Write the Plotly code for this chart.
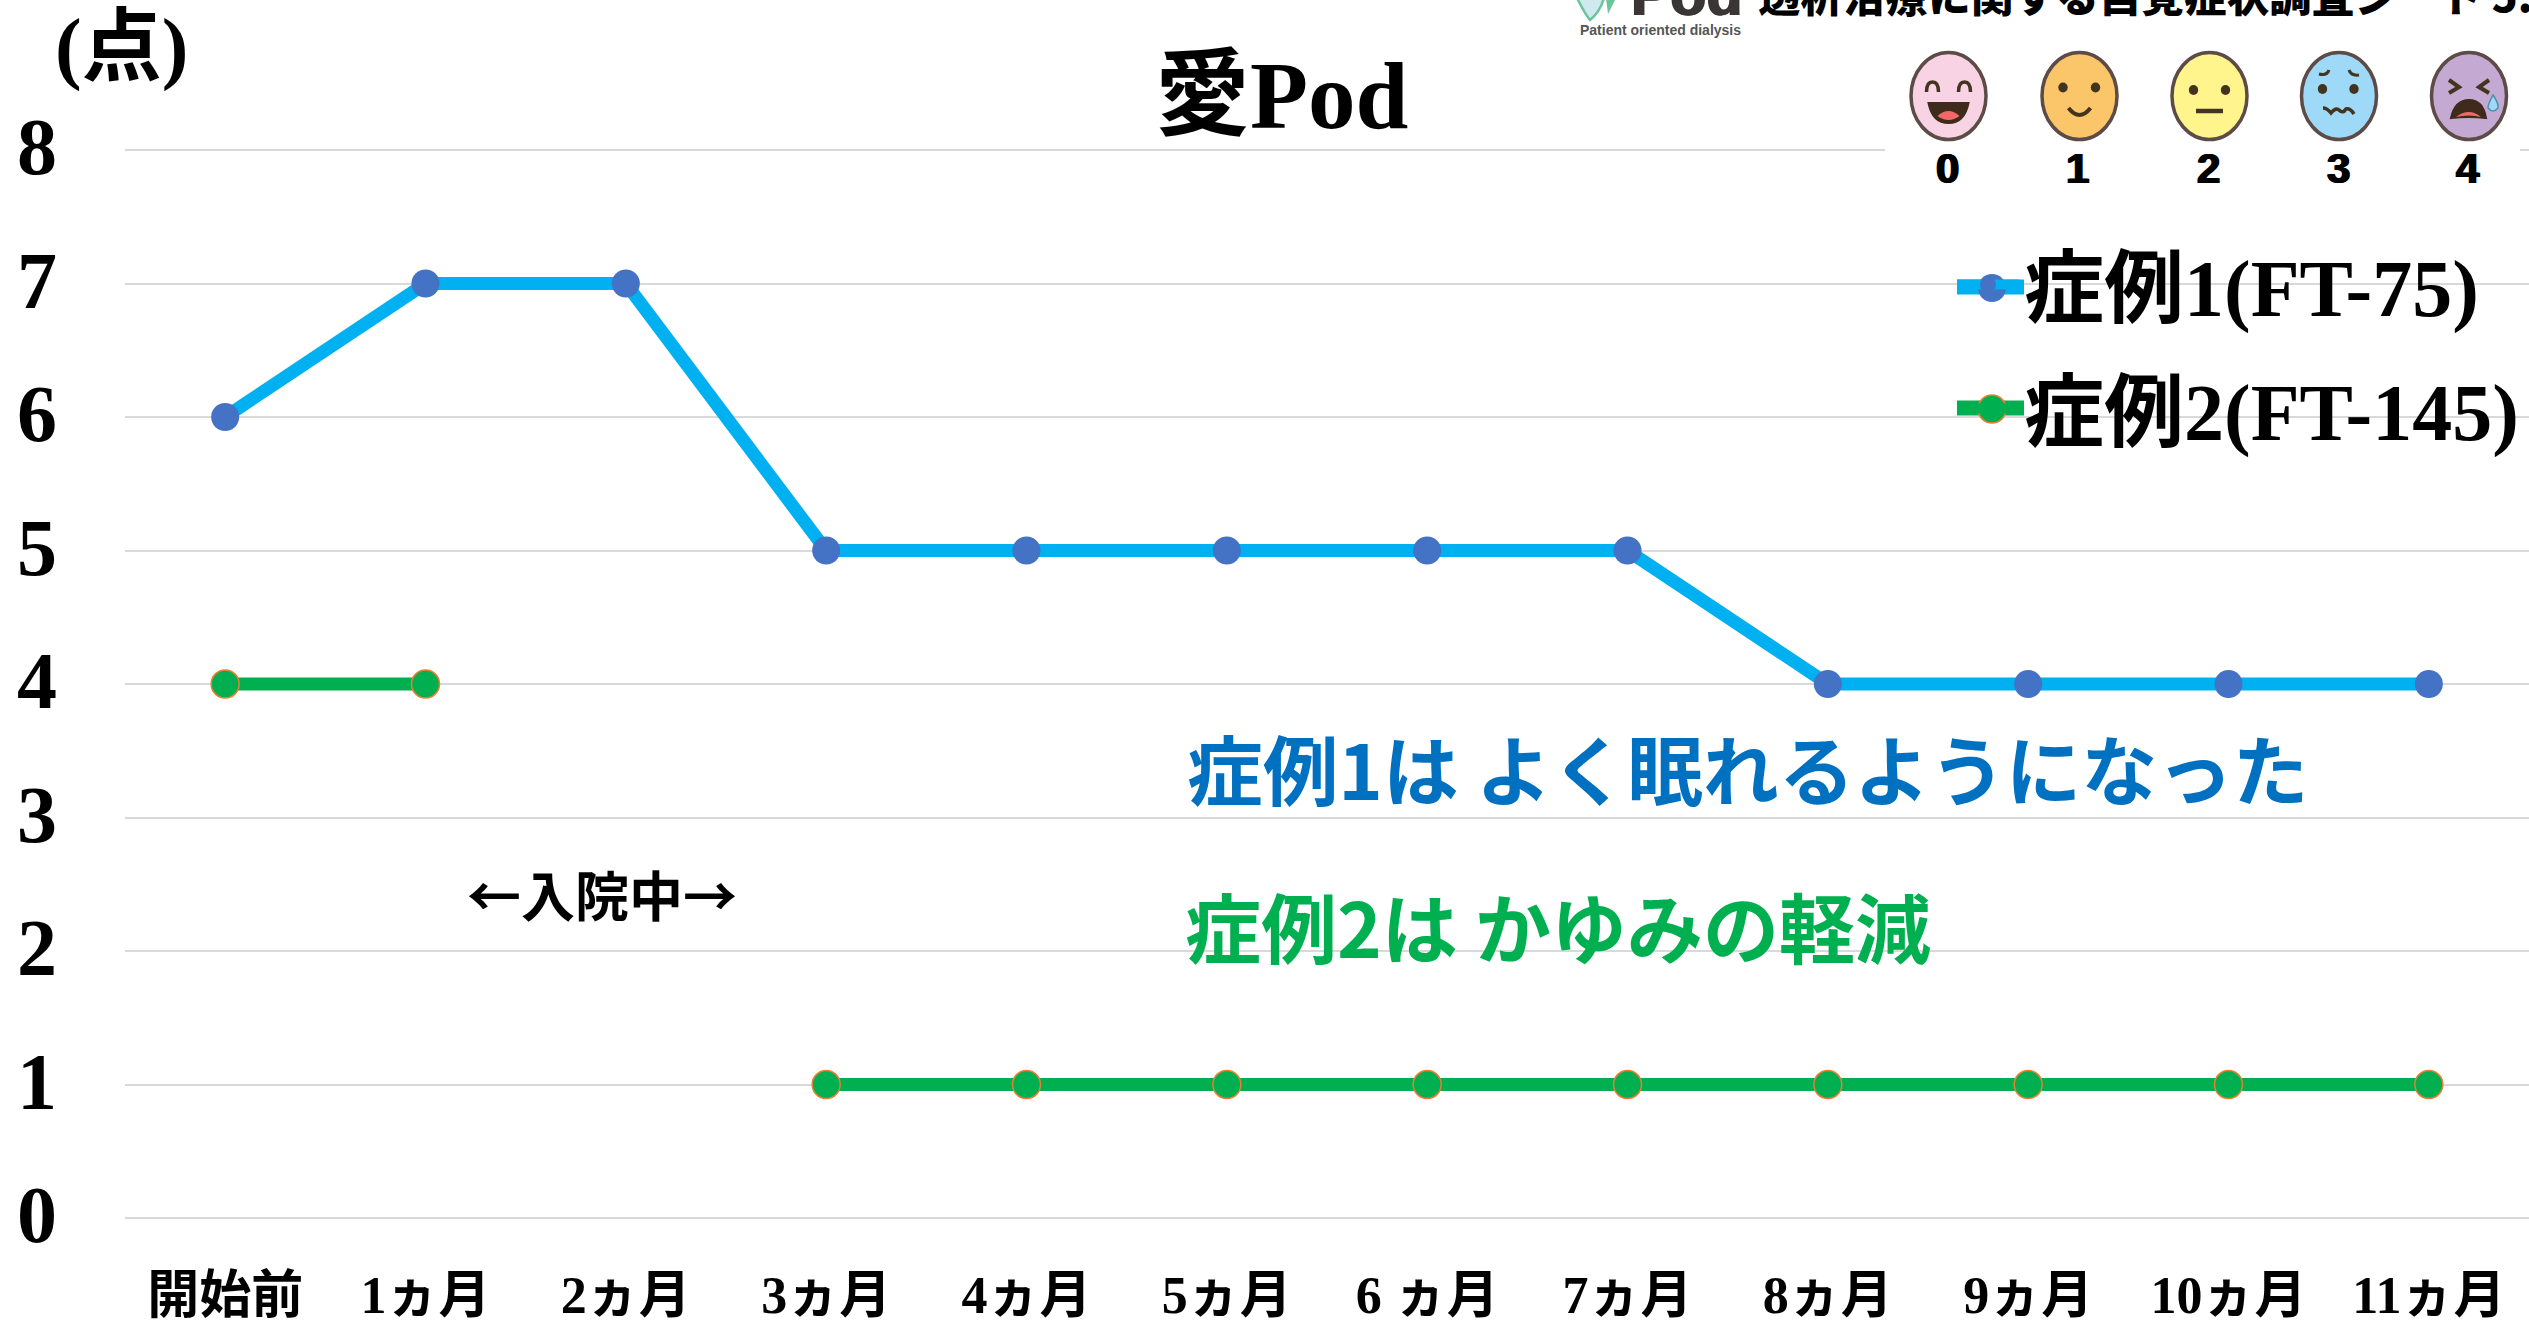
import plotly.graph_objects as go

categories = ["開始前", "1ヵ月", "2ヵ月", "3ヵ月", "4ヵ月", "5ヵ月", "6 ヵ月", "7ヵ月", "8ヵ月", "9ヵ月", "10ヵ月", "11ヵ月"]
case1_values = [6, 7, 7, 5, 5, 5, 5, 5, 4, 4, 4, 4]
case2_values = [4, 4, None, 1, 1, 1, 1, 1, 1, 1, 1, 1]
y_ticks = [0, 1, 2, 3, 4, 5, 6, 7, 8]
case1_name = "症例1(FT-75)"
case2_name = "症例2(FT-145)"
face_labels = ["0", "1", "2", "3", "4"]

W, H = 2529, 1321
EDGE = 10
UNIT = 133.5
L, T, PW, PH = 125, 150 - EDGE, 2404, 1068 + 2 * EDGE
SERIF = "Liberation Serif, Noto Sans CJK JP"
SANS = "Noto Sans CJK JP"


def px(x):
    return (x - L) / PW


def py(y):
    return 1 - (y - T) / PH


def path(cmds):
    """cmds: list of tuples (letter, x, y, ...) in page pixels."""
    out = []
    for c in cmds:
        if c[0] == "Z":
            out.append("Z")
            continue
        nums = c[1:]
        pts = []
        for i in range(0, len(nums), 2):
            pts.append(f"{px(nums[i]):.6f},{py(nums[i + 1]):.6f}")
        out.append(c[0] + " ".join(pts))
    return " ".join(out)


shapes = []


def ell(cx, cy, rx, ry, fill, line=None, lw=0, layer="above"):
    shapes.append(dict(type="circle", xref="paper", yref="paper", layer=layer,
                       x0=px(cx - rx), x1=px(cx + rx), y0=py(cy + ry), y1=py(cy - ry),
                       fillcolor=fill, line=dict(color=line or fill, width=lw)))


def pth(cmds, fill="rgba(0,0,0,0)", line="rgba(0,0,0,0)", lw=0):
    shapes.append(dict(type="path", xref="paper", yref="paper", layer="above",
                       path=path(cmds), fillcolor=fill, line=dict(color=line, width=lw)))


# white backing of the pasted scale picture
shapes.append(dict(type="rect", xref="paper", yref="paper", layer="above",
                   x0=px(1885), x1=px(2520), y0=py(190), y1=py(40),
                   fillcolor="white", line=dict(width=0)))

DK = "#43341f"
OUT = "#5c4b47"
CY = 96
CX = [1948.5, 2079.5, 2209.5, 2339, 2469]
FILLS = ["#f8d3e3", "#fbc669", "#fff58c", "#9fd9f8", "#c4a9d2"]
for cx, f in zip(CX, FILLS):
    ell(cx, CY, 37.5, 43.5, f, OUT, 3.5)

# face 0
c = CX[0]
for s in (-1, 1):
    pth([("M", c + s * 16 - 6, CY - 4), ("Q", c + s * 16 - 6, CY - 14, c + s * 16, CY - 14),
         ("Q", c + s * 16 + 6, CY - 14, c + s * 16 + 6, CY - 4)], line=DK, lw=3.5)
pth([("M", c - 20, CY + 7), ("L", c + 20, CY + 7), ("Q", c + 16, CY + 27, c, CY + 27),
     ("Q", c - 16, CY + 27, c - 20, CY + 7), ("Z",)], fill="#3f2a1c", line="#3f2a1c", lw=2)
pth([("M", c - 11, CY + 20), ("Q", c, CY + 10, c + 11, CY + 20), ("Q", c, CY + 28, c - 11, CY + 20), ("Z",)],
    fill="#f2686a")
# face 1
c = CX[1]
ell(c - 16.5, CY - 8.5, 4.7, 5, DK)
ell(c + 16, CY - 8.5, 4.7, 5, DK)
pth([("M", c - 11, CY + 12), ("Q", c, CY + 26, c + 11, CY + 12)], line=DK, lw=4)
# face 2
c = CX[2]
ell(c - 16, CY - 6, 4.7, 5, DK)
ell(c + 16, CY - 6, 4.7, 5, DK)
pth([("M", c - 13.5, CY + 15), ("L", c + 13.5, CY + 15)], line=DK, lw=4.5)
# face 3
c = CX[3]
pth([("M", c - 20, CY - 22), ("Q", c - 12, CY - 20, c - 10, CY - 26)], line=DK, lw=3)
pth([("M", c + 10, CY - 26), ("Q", c + 12, CY - 20, c + 20, CY - 21)], line=DK, lw=3)
ell(c - 16.5, CY - 7, 4.7, 5, DK)
ell(c + 15, CY - 7, 4.7, 5, DK)
pth([("M", c - 16, CY + 12), ("Q", c - 12, CY + 12, c - 8, CY + 17), ("Q", c - 3, CY + 11, c, CY + 14),
     ("Q", c + 4, CY + 18, c + 7, CY + 13), ("Q", c + 11, CY + 12, c + 15, CY + 18)], line=DK, lw=3.5)
# face 4
c = CX[4]
pth([("M", c - 20, CY - 16), ("L", c - 10, CY - 9), ("L", c - 20, CY - 3)], line=DK, lw=4)
pth([("M", c + 20, CY - 16), ("L", c + 10, CY - 9), ("L", c + 20, CY - 3)], line=DK, lw=4)
pth([("M", c - 18, CY + 22), ("Q", c - 14, CY + 4, c, CY + 4), ("Q", c + 14, CY + 4, c + 17, CY + 22),
     ("Q", c, CY + 20, c - 18, CY + 22), ("Z",)], fill="#3f2a1c", line="#3f2a1c", lw=2)
pth([("M", c - 13, CY + 21), ("Q", c, CY + 11, c + 12, CY + 21), ("Q", c, CY + 18, c - 13, CY + 21), ("Z",)],
    fill="#f2686a")
pth([("M", c + 24, CY - 1), ("Q", c + 30, CY + 8, c + 29, CY + 12), ("Q", c + 24, CY + 18, c + 19, CY + 12),
     ("Q", c + 19, CY + 8, c + 24, CY - 1), ("Z",)], fill="#9fd9f8", line="#4f8ea8", lw=1.5)

# logo mark (cropped by the top of the page)
pth([("M", 1577, -2), ("Q", 1585, 14, 1590, 20), ("Q", 1600, 12, 1604, -2), ("Z",)],
    fill="#cfe9ee", line="#6cc49a", lw=2.5)
pth([("M", 1606, -2), ("L", 1608, 14), ("L", 1616, -2), ("Z",)], fill="#6cc49a")

# legend keys: full-size symbols under the legend's own (size-capped) ones
for yy, lc, mc, ml, mw in [(287, "#00B0F0", "#4472C4", "#4472C4", 0), (408, "#00B050", "#00B050", "#ED7D31", 1.5)]:
    pth([("M", 1957, yy), ("L", 2024, yy)], line=lc, lw=15)
    ell(1992, yy + 1, 14, 14, mc, ml, mw)

fig = go.Figure()
fig.add_trace(go.Scatter(x=categories, y=case1_values, name=case1_name, mode="lines+markers",
                         legendgroup="a",
                         line=dict(color="#00B0F0", width=13),
                         marker=dict(color="#4472C4", size=28, line=dict(width=0))))
fig.add_trace(go.Scatter(x=categories, y=case2_values, name=case2_name, mode="lines+markers",
                         legendgroup="b", connectgaps=False,
                         line=dict(color="#00B050", width=13),
                         marker=dict(color="#00B050", size=28, line=dict(width=0))))
# orange rim of the case 2 markers
fig.add_trace(go.Scatter(x=categories, y=case2_values, mode="markers", showlegend=False,
                         marker=dict(symbol="circle-open", size=28, color="#ED7D31", line=dict(color="#ED7D31", width=1.5))))


def note(x, y, text, size, family, color="black", anchor="center", weight=700, shadow=None):
    font = dict(family=family, size=size, color=color, weight=weight)
    if shadow:
        font["shadow"] = shadow
    return dict(xref="paper", yref="paper", x=px(x), y=py(y), text=text, showarrow=False,
                xanchor=anchor, yanchor="middle", borderpad=0, font=font)


THICK = "1px 0 0 #000,-1px 0 0 #000"
annotations = [
    note(121, 47, "(点)", 80, SERIF),
    note(1281, 96, "愛Pod", 95, SERIF),
    note(1186, 767, "症例1は よく眠れるようになった", 75.7, SANS, "#0070C0", "left"),
    note(1184, 925, "症例2は かゆみの軽減", 76, SANS, "#00B050", "left"),
    note(602, 893, "←入院中→", 54, SANS),
    note(1757, -7, "透析治療に関する自覚症状調査シート 5.", 42.6, SANS, "black", "left", 900),
    note(1686, -5, "Pod", 59, "Liberation Sans", "#3a3635", shadow="1px 0 0 #3a3635,-1px 0 0 #3a3635"),
    note(1660, 30, "Patient oriented dialysis", 14, "Liberation Sans", "#555555"),
]
for cx, t in zip([1947, 2077, 2208, 2338, 2468], face_labels):
    annotations.append(note(cx, 169, t, 42, "Liberation Sans", shadow=THICK))

fig.update_layout(
    width=W, height=H, autosize=False,
    margin=dict(l=L, r=W - L - PW, t=T, b=H - T - PH, pad=0),
    paper_bgcolor="white", plot_bgcolor="white",
    showlegend=True,
    legend=dict(x=px(1952), y=py(226), xanchor="left", yanchor="top", bgcolor="rgba(0,0,0,0)",
                itemwidth=62, tracegroupgap=17, traceorder="grouped", itemclick=False, itemdoubleclick=False,
                font=dict(family=SERIF, size=80, color="black", weight=700)),
    xaxis=dict(type="category", categoryarray=categories, categoryorder="array", range=[-0.5, 11.5],
               automargin=False, showgrid=False, zeroline=False, showline=False, ticks="", ticklabelstandoff=32,
               tickfont=dict(family=SERIF, size=52, color="black", weight=700)),
    yaxis=dict(range=[-EDGE / UNIT, 8 + EDGE / UNIT], tickvals=y_ticks, showgrid=True, gridcolor="#d9d9d9", gridwidth=2,
               automargin=False, zeroline=False, showline=False, ticks="", ticklabelstandoff=67, ticklabelshift=-4,
               tickfont=dict(family=SERIF, size=80, color="black", weight=700)),
    shapes=shapes,
    annotations=annotations,
    hovermode=False,
)
fig.write_html("out.html", config={"displayModeBar": False},
               post_script="document.body.style.margin='0';document.body.style.overflow='hidden';")
